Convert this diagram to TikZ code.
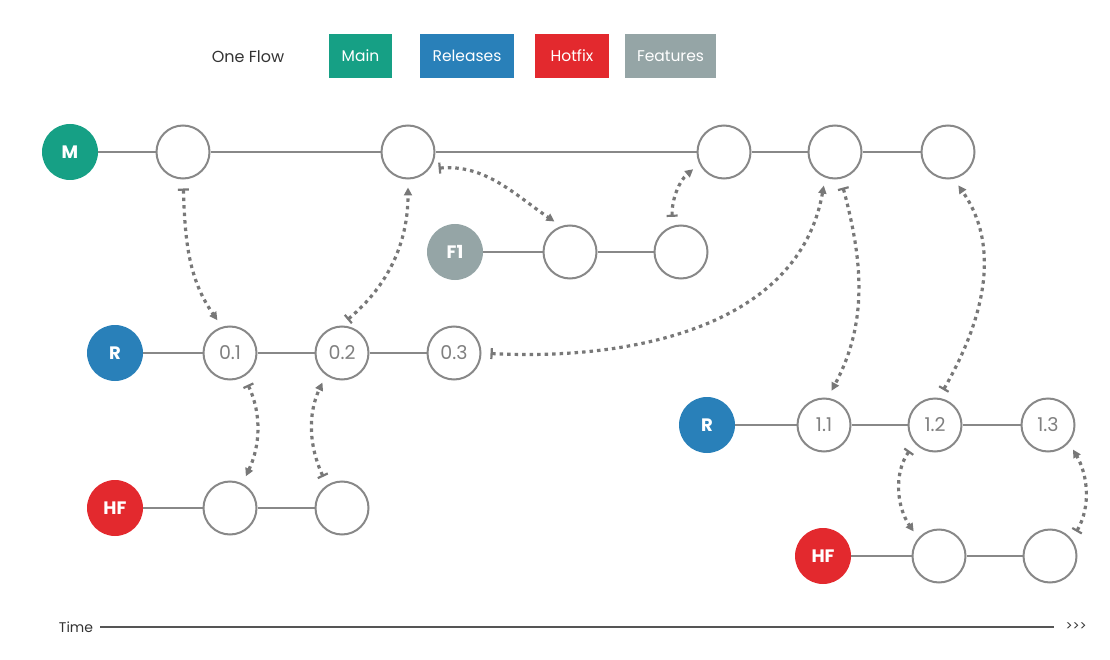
\documentclass[tikz,border=0pt]{standalone}
\usepackage{fontspec}
\setmainfont{Poppins}
\usetikzlibrary{positioning,calc,arrows.meta}

\definecolor{mainc}{RGB}{22,160,133}
\definecolor{relc}{RGB}{41,128,185}
\definecolor{hotc}{RGB}{227,41,46}
\definecolor{featc}{RGB}{149,165,166}
\definecolor{linegray}{RGB}{136,136,136}
\definecolor{dotgray}{RGB}{120,120,120}
\definecolor{labelgray}{RGB}{128,128,128}
\definecolor{titlegray}{RGB}{51,51,51}
\definecolor{axisgray}{RGB}{85,85,85}

\begin{document}
\begin{tikzpicture}
    [
    x=1pt, y=1pt,
    commit/.style={
      circle, draw=linegray, line width=2pt, fill=white,
      minimum size=53pt, inner sep=0pt,
      text=labelgray, font=\fontsize{19}{19}\selectfont
    },
    head/.style={
      circle, minimum size=56pt, inner sep=0pt,
      text=white, font=\fontsize{18}{18}\selectfont\bfseries
    },
    branch/.style={
      line width=2pt, color=linegray
    },
    merge/.style={
      line width=3.2pt, color=dotgray,
      dash pattern=on 3.5pt off 4pt,
      {Bar[width=11pt,line width=2.2pt]}-{Triangle[length=8pt,width=8pt]},
      shorten <=9pt, shorten >=8pt
    },
    legendbox/.style={
      minimum height=44pt, inner sep=0pt,
      text=white, font=\fontsize{15.5}{15.5}\selectfont
    }
    ]
    \useasboundingbox (0,0) rectangle (1110,-660);

    % Legend on top
    \node[text=titlegray, font=\fontsize{16}{16}\selectfont] (title) at (248,-57) {One Flow};
    \node[legendbox, fill=mainc, minimum width=63pt] (lmain) at (360.5,-56) {Main};
    \node[legendbox, fill=relc, minimum width=94pt] (lrel) at (467,-56) {Releases};
    \node[legendbox, fill=hotc, minimum width=74pt] (lhot) at (572,-56) {Hotfix};
    \node[legendbox, fill=featc, minimum width=91pt] (lfeat) at (670.5,-56) {Features};

    % Draw the branch heads
    \node[head, fill=mainc] (M) at (70,-152) {M};
    \node[head, fill=featc] (F) at (455,-252) {F1};
    \node[head, fill=relc] (R) at (115,-353) {R};
    \node[head, fill=hotc] (HF) at (115,-508) {HF};
    \node[head, fill=relc] (RB) at (707,-425) {R};
    \node[head, fill=hotc] (HFB) at (823,-556) {HF};

    % Draw the commits
    \foreach \n/\x/\y in {M1/183/152, M2/408/152, M3/724/152, M4/835/152, M5/948/152,
                          F1a/570/252, F1b/681/252, H1/230/508, H2/342/508,
                          HB1/939/556, HB2/1050/556}
      \node[commit] (\n) at (\x,-\y) {};
    \foreach \n/\x/\y/\t in {r01/230/353/0.1, r02/342/353/0.2, r03/454/353/0.3,
                             r11/824/425/1.1, r12/935/425/1.2, r13/1048/425/1.3}
      \node[commit] (\n) at (\x,-\y) {\t};

    % Draw the branches
    \draw[branch] (M) -- (M1) -- (M2) -- (M3) -- (M4) -- (M5);
    \draw[branch] (F) -- (F1a) -- (F1b);
    \draw[branch] (R) -- (r01) -- (r02) -- (r03);
    \draw[branch] (HF) -- (H1) -- (H2);
    \draw[branch] (RB) -- (r11) -- (r12) -- (r13);
    \draw[branch] (HFB) -- (HB1) -- (HB2);

    % Draw the merges between branches
    \draw[merge] (M1.-90) to[out=-88, in=125] (r01.107);
    \draw[merge] (r02.93) to[out=40, in=-90] (M2.-90);
    \draw[merge] (M2.-38) to[out=5, in=146] (F1a.109);
    \draw[merge] (F1b.108) to[out=92, in=-140] (M3.-154);
    \draw[merge] (r03.0) to[out=-3, in=-100] (M4.-111);
    \draw[merge] (M4.-78) to[out=-75, in=62] (r11.82);
    \draw[merge] (r12.82) to[out=60, in=-55] (M5.-78);
    \draw[merge] (r01.-59) to[out=-65, in=65] (H1.63);
    \draw[merge] (H2.123) to[out=115, in=-115] (r02.-126);
    \draw[merge] (r12.-138) to[out=-125, in=125] (HB1.139);
    \draw[merge] (HB2.37) to[out=60, in=-60] (r13.-40);

    % Draw the time axis
    \node[text=titlegray, font=\fontsize{14}{14}\selectfont, inner sep=7pt] (time) at (76,-627) {Time};
    \node[text=titlegray, font=\fontsize{13}{13}\selectfont, inner sep=11pt] (later) at (1076,-627) {{>}{>}{>}};
    \draw[line width=2.5pt, color=axisgray] (time) -- (later);
\end{tikzpicture}
\end{document}
